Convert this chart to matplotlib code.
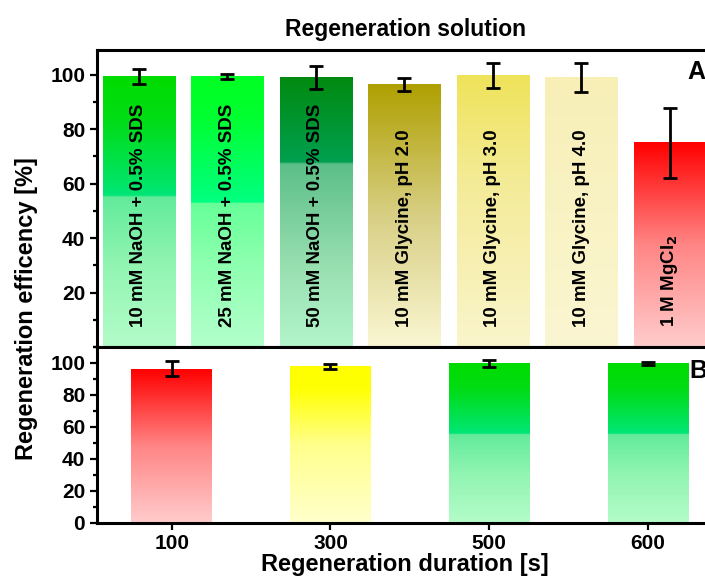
import numpy as np
import matplotlib
matplotlib.use("Agg")
import matplotlib.pyplot as plt
from matplotlib.colors import LinearSegmentedColormap
from matplotlib.ticker import MultipleLocator

plt.rcParams['font.family'] = ['Liberation Sans', 'DejaVu Sans']
plt.rcParams['font.weight'] = 'bold'
plt.rcParams['mathtext.default'] = 'bf'

# panel A: regeneration solutions
solutions = ["10 mM NaOH + 0.5% SDS", "25 mM NaOH + 0.5% SDS", "50 mM NaOH + 0.5% SDS",
             "10 mM Glycine, pH 2.0", "10 mM Glycine, pH 3.0", "10 mM Glycine, pH 4.0",
             "1 M MgCl$_2$"]
eff_solution = [99.3, 99.3, 98.9, 96.3, 99.6, 98.9, 75.0]
err_solution = [2.6, 1.0, 4.3, 2.3, 4.5, 5.3, 12.8]

# panel B: regeneration durations
durations = ["100", "300", "500", "600"]
eff_duration = [96.3, 97.8, 99.7, 99.7]
err_duration = [4.7, 1.6, 2.1, 0.8]

# gradient stops (position from bar bottom, colour)
green = [(0, '#b3fcc9'), (0.3, '#92f5b2'), (0.555, '#62eb9a'), (0.56, '#00e676'),
         (0.85, '#00dc12'), (1, '#00dd00')]
lime = [(0, '#b3ffcc'), (0.3, '#8fffb0'), (0.53, '#66ff99'), (0.535, '#00ff80'),
        (0.85, '#00ff30'), (1, '#00ff22')]
dark = [(0, '#b3f5cc'), (0.3, '#98dfb0'), (0.68, '#5cbf88'), (0.685, '#00a050'),
        (1, '#008a10')]
olive = [(0, '#faf6d2'), (0.5, '#d8cf85'), (1, '#afa000')]
yell = [(0, '#faf5cc'), (0.6, '#f4eb98'), (1, '#efe35a')]
pale = [(0, '#fbf6d2'), (1, '#f7efb6')]
red = [(0, '#ffcccc'), (0.5, '#ff8585'), (1, '#ff0000')]
yellow = [(0, '#ffffcc'), (0.5, '#ffff8c'), (0.85, '#ffff05'), (1, '#ffff00')]

top_grads = [green, lime, dark, olive, yell, pale, red]
bot_grads = [red, yellow, green, green]


def gradient_bars(ax, values, errors, grads, width):
    x = np.arange(len(values))
    bars = ax.bar(x, values, width, color='none', edgecolor='none')
    grad = np.linspace(0, 1, 256).reshape(-1, 1)
    for b, stops in zip(bars, grads):
        cmap = LinearSegmentedColormap.from_list('g', stops)
        x0 = b.get_x()
        ax.imshow(grad, cmap=cmap, origin='lower', aspect='auto',
                  extent=[x0, x0 + b.get_width(), 0, b.get_height()], zorder=1)
    ax.errorbar(x, values, yerr=errors, fmt='none', ecolor='black',
                elinewidth=2, capsize=5, capthick=2, zorder=3)
    return x


fig = plt.figure(figsize=(7.05, 5.84), dpi=100)
ax1 = fig.add_axes([0.1376, 0.4058, 0.874, 0.5086])
ax2 = fig.add_axes([0.1376, 0.1053, 0.874, 0.3005])

x1 = gradient_bars(ax1, eff_solution, err_solution, top_grads, 0.815)
for xi, lab in zip(x1, solutions):
    ax1.text(xi, 7.5, lab, rotation=90, ha='center', va='bottom',
             fontsize=13.5, fontweight='bold', zorder=4)
ax1.set_xlim(-0.47, 6.49)
ax1.set_ylim(0, 109)
ax1.set_xticks([])
ax1.set_yticks([20, 40, 60, 80, 100])
ax1.yaxis.set_minor_locator(MultipleLocator(10))
ax1.set_title("Regeneration solution", fontsize=16.5, fontweight='bold', pad=10)

x2 = gradient_bars(ax2, eff_duration, err_duration, bot_grads, 0.51)
ax2.set_xlim(-0.47, 3.41)
ax2.set_ylim(0, 110)
ax2.set_xticks(x2)
ax2.set_xticklabels(durations)
ax2.set_yticks([0, 20, 40, 60, 80, 100])
ax2.yaxis.set_minor_locator(MultipleLocator(10))
ax2.set_xlabel("Regeneration duration [s]", fontsize=17, fontweight='bold', labelpad=0)

for ax in (ax1, ax2):
    for s in ax.spines.values():
        s.set_linewidth(2.2)
    ax.tick_params(axis='both', which='major', direction='out', length=5, width=1.6,
                   labelsize=15)
    ax.tick_params(axis='y', which='minor', direction='out', length=3, width=1.6)
    ax.tick_params(axis='x', which='minor', bottom=False)

fig.text(687 / 705, 0.877, "A", fontsize=18, fontweight='bold', ha='left', va='center')
fig.text(689 / 705, 0.364, "B", fontsize=18, fontweight='bold', ha='left', va='center')
fig.text(0.037, 0.471, "Regeneration efficency [%]", rotation=90, fontsize=17,
         fontweight='bold', ha='center', va='center')

fig.savefig("out.png", dpi=100)
